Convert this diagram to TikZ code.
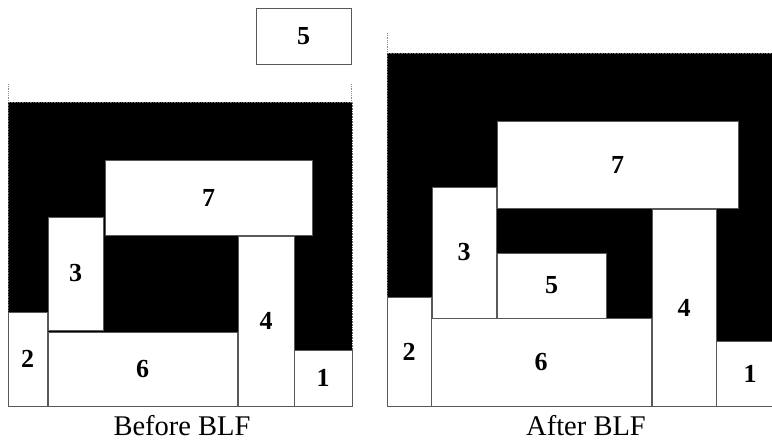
\documentclass[tikz,border=0pt]{standalone}
\usepackage{fontspec}
\setmainfont{Liberation Serif}
\begin{document}
\begin{tikzpicture}[x=1pt,y=-1pt,
  piece/.style={draw=black!65, line width=0.8pt, fill=white, inner sep=0pt,
    font=\fontsize{26}{26}\selectfont\bfseries},
  blackarea/.style={fill=black, draw=black!60, densely dotted, line width=0.6pt},
  guide/.style={draw=black!45, densely dotted, line width=0.8pt},
  caption/.style={font=\fontsize{28.5}{28.5}\selectfont, anchor=base, inner sep=0pt},
  baseline/.style={draw=black!65, line width=0.8pt}]
\useasboundingbox (0,0) rectangle (772,441);
\clip (0,0) rectangle (772,441);

% ---------------- Before BLF ----------------
\coordinate (lgt1) at (8,84);
\coordinate (lgb1) at (8,102);
\coordinate (lgt2) at (351,84);
\coordinate (lgb2) at (351,102);
\draw[guide] (lgt1) -- (lgb1);
\draw[guide] (lgt2) -- (lgb2);
\path[blackarea] (8,102) rectangle (352,406);

\node[piece, minimum width=39pt,  minimum height=94pt]  (L2) at (27.5,359)   {2};
\node[piece, minimum width=55pt,  minimum height=113pt] (L3) at (75.5,273.5) {3};
\node[piece, minimum width=207pt, minimum height=75pt]  (L7) at (208.5,197.5){7};
\node[piece, minimum width=189pt, minimum height=74pt]  (L6) at (142.5,369)  {6};
\node[piece, minimum width=56pt,  minimum height=170pt] (L4) at (266,321)    {4};
\node[piece, minimum width=58pt,  minimum height=56pt]  (L1) at (323,378)    {1};
\node[piece, minimum width=95pt,  minimum height=56pt]  (L5) at (303.5,36)   {5};

\coordinate (lbase1) at (8,406);
\coordinate (lbase2) at (352,406);
\draw[baseline] (lbase1) -- (lbase2);
\node[caption] (capL) at (182,435) {Before BLF};

% ---------------- After BLF ----------------
\coordinate (rgt) at (387,33);
\coordinate (rgb) at (387,53);
\draw[guide] (rgt) -- (rgb);
\path[blackarea] (387,53) rectangle (790,406);

\node[piece, minimum width=44pt,  minimum height=109pt] (R2) at (409,351.5)   {2};
\node[piece, minimum width=64pt,  minimum height=131pt] (R3) at (464,252.5)   {3};
\node[piece, minimum width=109pt, minimum height=65pt]  (R5) at (551.5,285.5) {5};
\node[piece, minimum width=241pt, minimum height=87pt]  (R7) at (617.5,164.5) {7};
\node[piece, minimum width=220pt, minimum height=88pt]  (R6) at (541,362)     {6};
\node[piece, minimum width=64pt,  minimum height=197pt] (R4) at (684,307.5)   {4};
\node[piece, minimum width=68pt,  minimum height=65pt]  (R1) at (750,373.5)   {1};

\coordinate (rbase1) at (387,406);
\coordinate (rbase2) at (790,406);
\draw[baseline] (rbase1) -- (rbase2);
\node[caption] (capR) at (586,435) {After BLF};
\end{tikzpicture}
\end{document}
